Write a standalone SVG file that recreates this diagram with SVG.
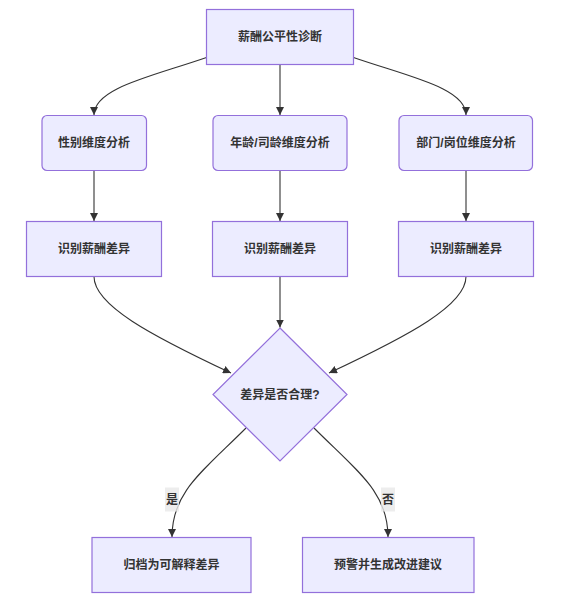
<svg xmlns="http://www.w3.org/2000/svg" width="567" height="608" viewBox="0 0 567 608">
<style>
.node{fill:#ECECFF;stroke:#9370DB;stroke-width:1.2}
.lbl{font-family:"Liberation Sans","Noto Sans CJK SC",sans-serif;font-size:12px;font-weight:bold;fill:#333;text-anchor:middle;dominant-baseline:central}
.edge{fill:none;stroke:#333;stroke-width:1.1}
.elbg{fill:#e8e8e8;fill-opacity:0.8}
</style>
<defs>
<marker id="arr" viewBox="0 0 10 10" refX="10" refY="5" markerUnits="userSpaceOnUse" markerWidth="8" markerHeight="8" orient="auto">
<path d="M0,0 L10,5 L0,10 z" fill="#333"/>
</marker>
</defs>
<rect width="567" height="608" fill="#fff"/>
<g id="edges">
<path class="edge" d="M206.5,57.5 C150,77 94,88 94,115" marker-end="url(#arr)"/>
<path class="edge" d="M280,64.5 L280,115" marker-end="url(#arr)"/>
<path class="edge" d="M353.5,57.5 C410,77 466,88 466,115" marker-end="url(#arr)"/>
<path class="edge" d="M94,170.5 L94,221" marker-end="url(#arr)"/>
<path class="edge" d="M280,170.5 L280,221" marker-end="url(#arr)"/>
<path class="edge" d="M466,170.5 L466,221" marker-end="url(#arr)"/>
<path class="edge" d="M94,276.5 C94,305 150,335 231,373" marker-end="url(#arr)"/>
<path class="edge" d="M280,276.5 L280,327.5" marker-end="url(#arr)"/>
<path class="edge" d="M466,276.5 C466,305 410,335 329,373" marker-end="url(#arr)"/>
<path class="edge" d="M246,428 C202,472 172,492 172,537" marker-end="url(#arr)"/>
<path class="edge" d="M314,428 C358,472 388,492 388,537" marker-end="url(#arr)"/>
<rect class="elbg" x="165" y="487.5" width="14" height="24"/>
<text class="lbl" x="172" y="499.5">是</text>
<rect class="elbg" x="381" y="487.5" width="14" height="24"/>
<text class="lbl" x="388" y="499.5">否</text>
</g>
<g id="A"><rect class="node" x="206.5" y="9.5" width="147" height="55"/><text class="lbl" x="280" y="37">薪酬公平性诊断</text></g>
<g id="B1"><rect class="node" x="42" y="115.5" width="104.5" height="55" rx="5"/><text class="lbl" x="94" y="143">性别维度分析</text></g>
<g id="B2"><rect class="node" x="213" y="115.5" width="134" height="55" rx="5"/><text class="lbl" x="280" y="143">年龄/司龄维度分析</text></g>
<g id="B3"><rect class="node" x="399" y="115.5" width="133.5" height="55" rx="5"/><text class="lbl" x="466" y="143">部门/岗位维度分析</text></g>
<g id="C1"><rect class="node" x="26.5" y="221.5" width="135" height="55"/><text class="lbl" x="94" y="249">识别薪酬差异</text></g>
<g id="C2"><rect class="node" x="212.5" y="221.5" width="135" height="55"/><text class="lbl" x="280" y="249">识别薪酬差异</text></g>
<g id="C3"><rect class="node" x="398.5" y="221.5" width="135" height="55"/><text class="lbl" x="466" y="249">识别薪酬差异</text></g>
<g id="D"><polygon class="node" points="280,328 347,394.5 280,461 213,394.5"/><text class="lbl" x="280" y="395">差异是否合理?</text></g>
<g id="E1"><rect class="node" x="92" y="537.5" width="159" height="55"/><text class="lbl" x="171.5" y="565">归档为可解释差异</text></g>
<g id="E2"><rect class="node" x="302.5" y="537.5" width="171.5" height="55"/><text class="lbl" x="388" y="565">预警并生成改进建议</text></g>
</svg>
